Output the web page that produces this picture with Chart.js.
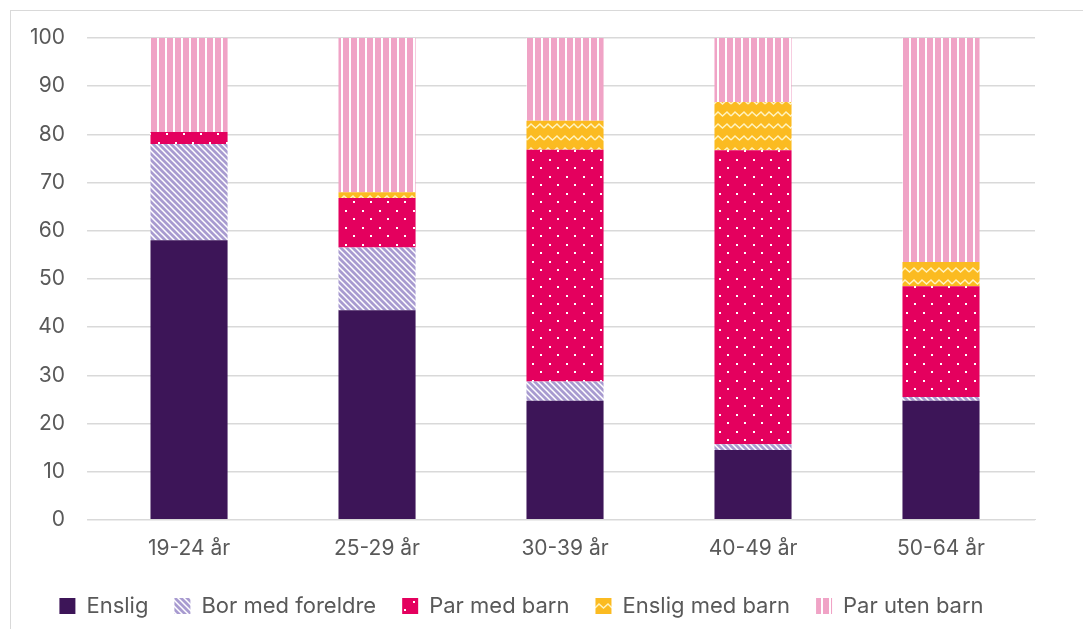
<!DOCTYPE html>
<html><head><meta charset="utf-8">
<script src="https://cdn.jsdelivr.net/npm/chart.js@4"></script>
<style>
body{margin:0;background:#fff;}
#box{position:absolute;left:10px;top:10px;width:1090px;height:640px;border:1px solid #d9d9d9;box-sizing:border-box;}
#wrap{position:absolute;left:0;top:0;width:1083px;height:629px;}
</style></head><body>
<div id="box"></div>
<div id="wrap"><canvas id="c"></canvas></div>
<script>
const categories=["19-24 år","25-29 år","30-39 år","40-49 år","50-64 år"];
const enslig=[58,43.5,24.7,14.5,24.7];
const borMedForeldre=[20,13,4,1.2,0.8];
const parMedBarn=[2.5,10.3,48.1,61,23];
const ensligMedBarn=[0,1.2,6,10,5];
const parUtenBarn=[19.5,32,17.2,13.3,46.5];
const yTicks=[0,10,20,30,40,50,60,70,80,90,100];

function pat(w,h,draw){const c=document.createElement('canvas');c.width=w;c.height=h;const x=c.getContext('2d');draw(x);return x.createPattern(c,'repeat');}
const pSolid='#3d1558';
const pBor=pat(6,6,x=>{x.fillStyle='#a89bd0';x.fillRect(0,0,6,6);x.strokeStyle='#fff';x.lineWidth=1.5;x.beginPath();x.moveTo(0,0);x.lineTo(6,6);x.moveTo(-3,3);x.lineTo(3,9);x.moveTo(3,-3);x.lineTo(9,3);x.stroke();});
const pPar=pat(17,17,x=>{x.fillStyle='#e4005e';x.fillRect(0,0,17,17);x.fillStyle='#fff';x.fillRect(5,6,2,2);x.fillRect(13,14,2,2);});
const pEns=pat(17,12,x=>{x.fillStyle='#fbbb21';x.fillRect(0,0,17,12);x.strokeStyle='#fff3c0';x.lineWidth=1.5;x.beginPath();x.moveTo(0,8);x.lineTo(4,4);x.lineTo(8.5,8);x.lineTo(13,4);x.lineTo(17,8);x.stroke();});
const pUten=pat(8,8,x=>{x.fillStyle='#f0a3c6';x.fillRect(0,0,8,8);x.fillStyle='#fff';x.fillRect(5,0,2,8);});

const F={family:'Inter, Roboto',size:21};
const ds=(label,data,bg)=>({label,data,backgroundColor:bg,barPercentage:0.41,categoryPercentage:1});
new Chart(document.getElementById('c'),{type:'bar',
data:{labels:categories,datasets:[ds('Enslig',enslig,pSolid),ds('Bor med foreldre',borMedForeldre,pBor),ds('Par med barn',parMedBarn,pPar),ds('Enslig med barn',ensligMedBarn,pEns),ds('Par uten barn',parUtenBarn,pUten)]},
options:{responsive:true,maintainAspectRatio:false,animation:false,
layout:{padding:{left:8,right:48,top:38,bottom:2}},
plugins:{tooltip:{enabled:false},legend:{position:'bottom',labels:{boxWidth:16,boxHeight:16,padding:26,color:'#595959',font:{family:'Inter, Roboto',size:22}}}},
scales:{x:{stacked:true,grid:{display:false},border:{color:'#d9d9d9'},ticks:{color:'#595959',font:F,padding:8}},
y:{stacked:true,min:0,max:100,afterBuildTicks:a=>{a.ticks=yTicks.map(v=>({value:v}));},grid:{color:'#d9d9d9',lineWidth:1.5},border:{display:false},ticks:{color:'#595959',font:F,padding:22}}}}});
</script></body></html>
